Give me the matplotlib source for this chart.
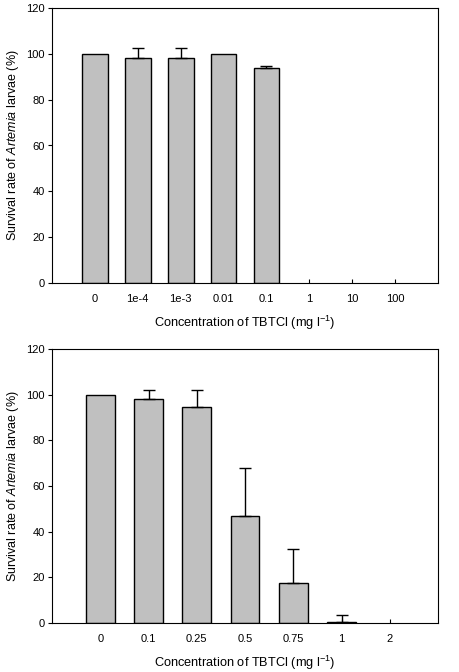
import matplotlib
matplotlib.use("Agg")
import matplotlib.pyplot as plt
import numpy as np

plt.rcParams['font.family'] = ['Liberation Sans', 'DejaVu Sans']
plt.rcParams['mathtext.fontset'] = 'custom'
plt.rcParams['mathtext.rm'] = 'Liberation Sans'
plt.rcParams['mathtext.it'] = 'Liberation Sans:italic'

cats_top = ["0", "1e-4", "1e-3", "0.01", "0.1", "1", "10", "100"]
vals_top = [100, 98.2, 98.2, 100, 93.8, 0, 0, 0]
err_top = [0, 4.3, 4.3, 0, 0.9, 0, 0, 0]

cats_bot = ["0", "0.1", "0.25", "0.5", "0.75", "1", "2"]
vals_bot = [100, 98.3, 94.8, 46.8, 17.6, 0.6, 0]
err_bot = [0, 3.9, 7.1, 21.3, 14.8, 2.9, 0]

fig = plt.figure(figsize=(4.59, 6.72), dpi=100)
W, H = 459, 672

def panel(rect, cats, vals, errs):
    l, t, r, b = rect
    ax = fig.add_axes([l / W, 1 - b / H, (r - l) / W, (b - t) / H])
    x = np.arange(len(cats))
    vis = [i for i, v in enumerate(vals) if v > 0]
    ax.bar([x[i] for i in vis], [vals[i] for i in vis], width=0.6,
           color="#c0c0c0", edgecolor="black", linewidth=1.0, zorder=2)
    ev = [i for i, e in enumerate(errs) if e > 0]
    ax.errorbar([x[i] for i in ev], [vals[i] for i in ev],
                yerr=[[0] * len(ev), [errs[i] for i in ev]],
                fmt="none", ecolor="black", elinewidth=1.0, capsize=4,
                capthick=1.0, zorder=3)
    ax.set_xlim(-1, len(cats))
    ax.set_ylim(0, 120)
    ax.set_yticks(range(0, 121, 20))
    ax.set_xticks(x)
    ax.set_xticklabels(cats)
    ax.tick_params(axis="x", direction="in", length=3, width=0.8, labelsize=8, pad=8)
    ax.tick_params(axis="y", direction="out", length=3, width=0.8, labelsize=8, pad=2)
    for s in ax.spines.values():
        s.set_linewidth(0.8)
    ax.set_xlabel(r"Concentration of TBTCl (mg l$^{\mathregular{-1}}$)", fontsize=9.2, labelpad=7)
    ax.set_ylabel(r"Survival rate of $\mathit{Artemia}$ larvae (%)", fontsize=9, labelpad=4)
    return ax

panel((52, 8, 438, 283), cats_top, vals_top, err_top)
panel((52, 349, 438, 623), cats_bot, vals_bot, err_bot)

fig.savefig("out.png", dpi=100)
